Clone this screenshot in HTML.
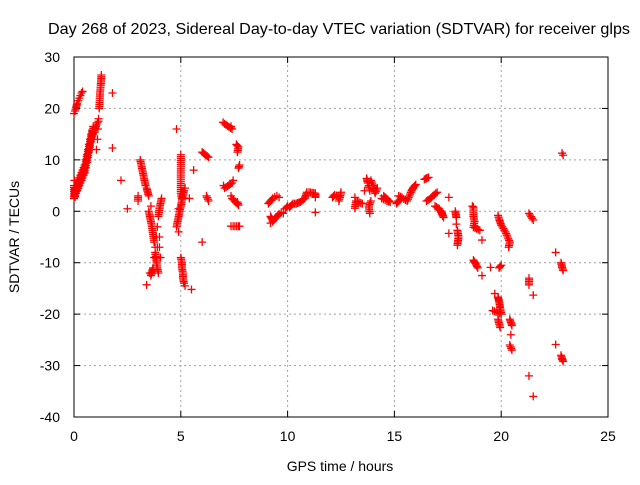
<!DOCTYPE html>
<html><head><meta charset="utf-8"><style>
body{margin:0;background:#fff;font-family:"Liberation Sans",sans-serif;}
svg text{font-family:"Liberation Sans",sans-serif;font-size:14px;fill:#000;}
</style></head><body>
<svg id="chart" width="640" height="480" viewBox="0 0 640 480" xmlns="http://www.w3.org/2000/svg">
<text x="48" y="34" style="font-size:16px" textLength="582" lengthAdjust="spacingAndGlyphs">Day 268 of 2023, Sidereal Day-to-day VTEC variation (SDTVAR) for receiver glps</text>
<text x="340" y="471" text-anchor="middle">GPS time / hours</text>
<text transform="translate(19,237) rotate(-90)" text-anchor="middle">SDTVAR / TECUs</text>
<g id="grid"></g><g id="axes"></g><g id="marks"></g>
</svg>
<script>
const xTicks=[0,5,10,15,20,25];
const yTicks=[-40,-30,-20,-10,0,10,20,30];
const points=[
[0,2.5],[0,3.5],[0,5],[0.05,3],[0.05,4.5],[0.1,3.5],[0.1,5],[0.15,4],[0.15,5.5],[0.2,4.5],[0.2,6],[0.25,5],[0.25,6.5],[0.3,5.5],[0.3,7],[0.35,6],[0.35,7.5],[0.4,6.5],[0.4,8],[0.45,7],[0.45,8.5],[0.5,7.5],[0.5,9],[0.55,8.5],[0.55,10],[0.6,9.5],[0.6,11],[0.65,10.5],[0.65,12],[0.7,11.5],[0.7,13],[0.75,12.5],[0.75,14],[0.8,13.5],[0.8,15],[0.85,14.5],[0.85,15.8],[0.9,15],[0.9,16.5],[0.95,15.8],[1.0,16.2],[1.05,16.8],[1.1,17.2],[1.15,17.5],[0.02,6],[0.05,2.8],
[1.05,12],[1.1,14],[1.12,16],[1.15,18],[1.18,20],[1.2,21.5],[1.22,23],[1.25,24.5],[1.27,25.5],[1.28,26.5],
[0.0,19],[0.05,19.5],[0.1,20.2],[0.15,21],[0.2,21.5],[0.25,22],[0.3,22.5],[0.35,23],[0.4,23.3],
[1.8,23],[1.8,12.3],[2.2,6],[2.5,0.5],[3.0,3],[3.0,2],[3.4,-14.3],
[3.1,10],[3.15,9],[3.2,8],[3.25,7],[3.3,6],[3.35,5],[3.4,4.5],[3.5,3],
[3.5,0],[3.55,-1],[3.6,-2],[3.65,-3],[3.7,-4.5],[3.75,-6],[3.8,-8],[3.85,-9.5],[3.9,-11],[3.95,-12],[3.6,1],[3.55,-12],[3.6,-12.5],[3.7,-11],[3.75,-9],[3.8,-7],[3.85,-5],[3.9,-3],[3.95,-1],[4.0,0.5],[4.05,1.5],[4.1,2.5],[4.0,-5],[4.0,-7],[4.05,-9],[3.9,-7],
[4.8,-3],[4.85,-2],[4.9,-1],[4.95,0],[5.0,1],[5.05,2],[5.1,3],[5.15,4],[5.2,4.5],[4.9,-4],[4.9,0.5],
[5.0,11],[5.0,9.5],[5.0,8],[5.0,6.5],[5.0,5],[5.0,3.5],[5.05,2.5],
[5.0,-9],[5.05,-10],[5.05,-11],[5.1,-12],[5.1,-13],[5.15,-14],[5.2,-14.5],
[4.8,16],[5.5,-15.2],[5.6,8],[6.0,11.5],[6.3,10.5],[6.0,-6],[6.2,3],[6.3,2],[5.4,2.5],
[6.98,17.3],[7.05,17],[7.4,16],[7.35,16.5],[7.6,13],[7.7,12.5],[7.65,11.5],[7.7,8.4],[7.75,9],[7.0,5],[7.05,4.5],[7.4,5.5],[7.45,6],[7.35,3],[7.4,2.5],[7.7,1.2],[7.65,1.8],[7.35,-2.9],[7.45,-2.9],[7.7,-2.9],[7.75,-2.9],
[9.1,1.5],[9.2,2],[9.3,2.5],[9.4,2.8],[9.5,3],[9.6,2.7],[9.2,-2.3],[9.3,-2],[9.4,-1.5],[9.5,-1],[9.6,-0.5],[9.7,-0.2],[9.8,-0.4],[9.3,-1.7],[9.2,-1],
[9.9,0.5],[10.0,1],[10.1,0.8],[10.25,1.5],[10.4,1.5],[10.6,1.8],[10.8,2.5],[10.9,3.7],[11.0,3.7],[11.3,3.5],[11.3,2.7],[11.3,-0.2],
[12.1,2.7],[12.2,3.2],[12.45,2.7],[12.5,3.7],[12.4,2],[13.15,2.7],[13.15,0.6],[13.2,2],
[13.5,1.5],[13.6,4],[13.7,6.4],[13.75,5.5],[13.8,5],[13.85,4],[13.9,6],[14.0,5],[14.1,3.5],[14.2,4.5],[13.85,-0.4],[13.8,1],[13.9,2],[14.4,2.5],[14.65,2],[14.8,1.8],[14.5,3],
[15.1,1.5],[15.35,2.7],[15.2,3],[15.6,2],[15.7,3],[15.8,4],[15.9,4.7],[16.0,5.2],[16.5,6.4],[16.6,6.6],[16.4,6.2],[16.5,2],[16.7,2.5],[16.8,3],[17.0,3.7],[16.9,1],[17.1,0.5],[17.3,-1.2],[17.2,0],
[17.55,2.7],[17.55,-4.3],[17.9,-1.2],[17.85,0],[17.95,-3.7],[18.0,-5],[17.95,-6.6],[17.9,-2.5],
[18.65,1],[18.7,0.8],[18.7,-1],[18.75,-2],[18.7,-3.1],[19.0,-3.7],[19.1,-5.6],[18.8,-3],[18.7,-9.5],[18.8,-10.2],[18.9,-11],[19.5,-10.9],[19.1,-12.5],
[19.85,-0.8],[19.9,-1.5],[20.0,-2.7],[20.2,-4],[20.3,-5],[20.4,-6],[20.35,-7],[20.0,-10.5],[19.9,-11],
[19.85,-16.7],[19.9,-17.5],[19.95,-18.7],[20.0,-20],[19.6,-19.3],[19.7,-16],[19.95,-22.6],[19.85,-21],[20.5,-22.2],[20.4,-21],[20.45,-24],[20.5,-27],[20.4,-26],
[21.3,-0.4],[21.5,-1.7],[21.3,-13],[21.3,-14.3],[21.5,-16.3],[21.3,-32],[21.5,-36],
[22.55,-8],[22.85,-10.9],[22.9,-11.5],[22.8,-10],[22.55,-25.9],[22.85,-28.8],[22.9,-29.2],[22.8,-28],[22.9,10.9],[22.85,11.3]
];
const svg=document.getElementById('chart');
const NS='http://www.w3.org/2000/svg';
const X0=74,X1=608,Y0=417,Y1=57,xmin=0,xmax=25,ymin=-40,ymax=30;
function sx(v){return X0+(v-xmin)/(xmax-xmin)*(X1-X0);}
function sy(v){return Y0-(v-ymin)/(ymax-ymin)*(Y0-Y1);}
function mk(tag,attrs,parent){const e=document.createElementNS(NS,tag);for(const k in attrs)e.setAttribute(k,attrs[k]);parent.appendChild(e);return e;}
const grid=document.getElementById('grid'),axes=document.getElementById('axes'),marks=document.getElementById('marks');
xTicks.forEach(t=>{
  const x=sx(t);
  if(t>xmin&&t<xmax){const g=mk('line',{x1:x,y1:Y0,x2:x,y2:Y1,stroke:'#a0a0a0','stroke-dasharray':'2,3'},grid);
  
  }
  mk('line',{x1:x,y1:Y0,x2:x,y2:Y0-6,stroke:'#000'},axes);
  mk('line',{x1:x,y1:Y1,x2:x,y2:Y1+6,stroke:'#000'},axes);
  const l=mk('text',{x:x,y:Y0+24,'text-anchor':'middle'},axes);l.textContent=t;
  
  
});
yTicks.forEach(t=>{
  const y=sy(t);
  if(t>ymin&&t<ymax){const g=mk('line',{x1:X0,y1:y,x2:X1,y2:y,stroke:'#a0a0a0','stroke-dasharray':'2,3'},grid);
  
  }
  mk('line',{x1:X0,y1:y,x2:X0+6,y2:y,stroke:'#000'},axes);
  mk('line',{x1:X1,y1:y,x2:X1-6,y2:y,stroke:'#000'},axes);
  const l=mk('text',{x:X0-14,y:y+5,'text-anchor':'end'},axes);l.textContent=t;
  
  
});
const frame=mk('rect',{x:X0,y:Y1,width:X1-X0,height:Y0-Y1,fill:'none',stroke:'#000'},axes);


let d='';
points.forEach(p=>{const x=sx(p[0]),y=sy(p[1]);d+=`M${x-4},${y}h8M${x},${y-4}v8`;});
points.forEach((p,i)=>{if(i>0){const q=points[i-1];const dx=sx(p[0])-sx(q[0]),dy=sy(p[1])-sy(q[1]);const dist=Math.hypot(dx,dy);
 if(dist<10&&dist>3){const n=Math.ceil(dist/2);for(let k=1;k<n;k++){const x=sx(q[0])+dx*k/n,y=sy(q[1])+dy*k/n;d+=`M${x-4},${y}h8M${x},${y-4}v8`;}}}});
const path=mk('path',{d:d,stroke:'#ff0000','stroke-width':1.3,fill:'none'},marks);


</script>
</body></html>
